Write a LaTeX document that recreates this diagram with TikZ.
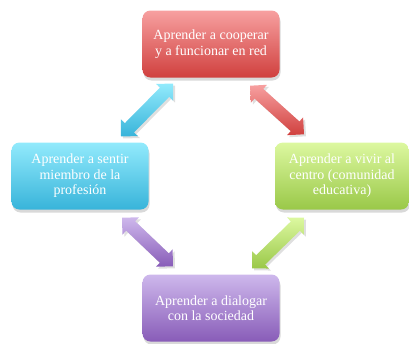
\documentclass[tikz,border=0pt]{standalone}
\usepackage{fontspec}
\setmainfont{Liberation Serif}
\usetikzlibrary{calc,shadows}

\definecolor{redtop}{RGB}{247,160,160}
\definecolor{redbot}{RGB}{208,64,62}
\definecolor{bluetop}{RGB}{146,234,252}
\definecolor{bluebot}{RGB}{56,180,218}
\definecolor{greentop}{RGB}{220,248,160}
\definecolor{greenbot}{RGB}{154,200,72}
\definecolor{purpletop}{RGB}{206,184,236}
\definecolor{purplebot}{RGB}{136,92,184}

% double block arrow from tip #2 to tip #3
\newcommand\dblarrow[3]{%
  \shade[#1] (#2) -- ($($(#2)!12pt!(#3)$)!12pt!90:(#3)$)
    -- ($($(#2)!12pt!(#3)$)!6.5pt!90:(#3)$)
    -- ($($(#3)!12pt!(#2)$)!6.5pt!-90:(#2)$)
    -- ($($(#3)!12pt!(#2)$)!12pt!-90:(#2)$)
    -- (#3) -- ($($(#3)!12pt!(#2)$)!12pt!90:(#2)$)
    -- ($($(#3)!12pt!(#2)$)!6.5pt!90:(#2)$)
    -- ($($(#2)!12pt!(#3)$)!6.5pt!-90:(#3)$)
    -- ($($(#2)!12pt!(#3)$)!12pt!-90:(#3)$) -- cycle;
}

\begin{document}
\begin{tikzpicture}[x=1pt, y=-1pt,
    font=\fontsize{14}{15.5}\selectfont,
    box/.style={rounded corners=8pt, minimum width=137pt, minimum height=67pt,
        align=center, text=white, inner sep=2pt,
        drop shadow={shadow xshift=1pt, shadow yshift=-3pt, opacity=0.3}},
    link/.style={drop shadow={shadow xshift=2pt, shadow yshift=-2pt, opacity=0.25}}
]
\useasboundingbox (0,0) rectangle (409,343);

\node[box, top color=redtop, bottom color=redbot] (coop) at (211,44)
    {Aprender a cooperar\\y a funcionar en red};
\node[box, top color=bluetop, bottom color=bluebot] (sentir) at (80,176)
    {Aprender a sentir\\miembro de la\\profesión};
\node[box, minimum width=134pt, top color=greentop, bottom color=greenbot] (vivir) at (342,176)
    {Aprender a vivir al\\centro (comunidad\\educativa)};
\node[box, top color=purpletop, bottom color=purplebot] (dialogar) at (211,308)
    {Aprender a dialogar\\con la sociedad};

% arrow ends
\coordinate (b1) at ([shift={(-38,6)}]coop.south);
\coordinate (b2) at ([shift={(41,-6)}]sentir.north);
\coordinate (r1) at ([shift={(39,8)}]coop.south);
\coordinate (r2) at ([shift={(-38,-8)}]vivir.north);
\coordinate (p1) at ([shift={(42,8)}]sentir.south);
\coordinate (p2) at ([shift={(-38,-8)}]dialogar.north);
\coordinate (g1) at ([shift={(-38,8)}]vivir.south);
\coordinate (g2) at ([shift={(41,-6)}]dialogar.north);

\dblarrow{link, top color=bluetop, bottom color=bluebot}{b1}{b2}
\dblarrow{link, top color=redtop, bottom color=redbot}{r1}{r2}
\dblarrow{link, top color=purpletop, bottom color=purplebot}{p1}{p2}
\dblarrow{link, top color=greentop, bottom color=greenbot}{g1}{g2}

\end{tikzpicture}
\end{document}
